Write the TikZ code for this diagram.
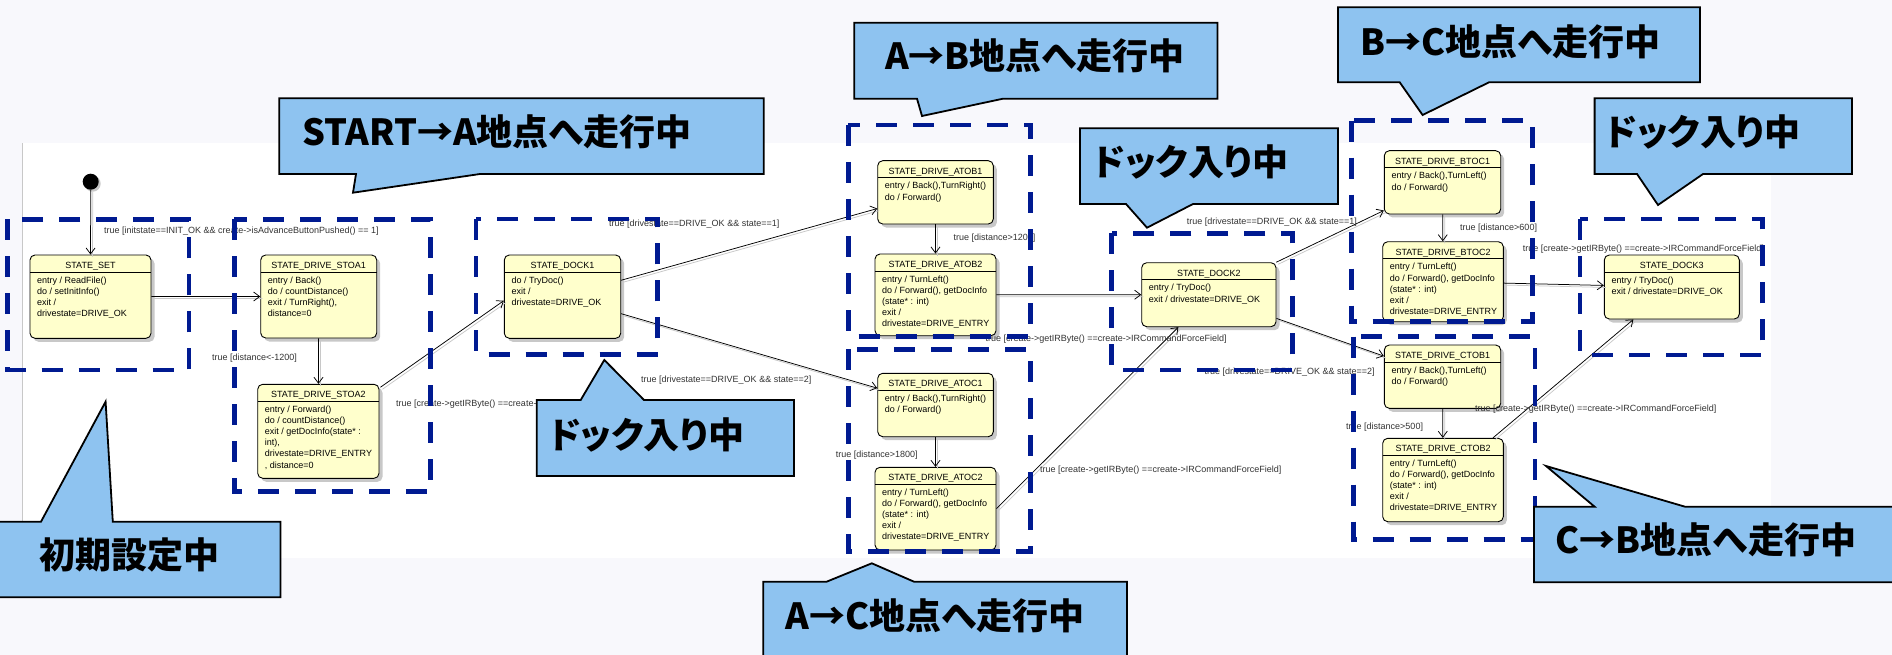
\documentclass[tikz,border=0pt]{standalone}
\usepackage{fontspec}
\setmainfont{Liberation Sans}
\newfontfamily\jpfont{Noto Sans CJK JP}[RawFeature=+palt]
\usetikzlibrary{arrows.meta,calc,fit}
\definecolor{bgout}{RGB}{248,248,252}
\definecolor{stfill}{RGB}{255,255,204}
\definecolor{navy}{RGB}{0,26,145}
\definecolor{callfill}{RGB}{142,195,240}
\definecolor{shd}{RGB}{200,200,200}
\tikzset{
  st/.style={draw=black, line width=0.9pt, fill=stfill, rounded corners=5pt, inner sep=0pt},
  sttitle/.style={font=\fontsize{9}{11}\selectfont, anchor=base, inner sep=0pt},
  stbody/.style={font=\fontsize{9}{11.1}\selectfont, anchor=north west, align=left, inner sep=0pt},
  edgeline/.style={draw=black, line width=0.75pt, -{Straight Barb[length=6pt,width=9pt]},
     preaction={draw=shd, line width=0.75pt, arrows=-, transform canvas={xshift=2pt,yshift=-2pt}}},
  lbl/.style={font=\fontsize{9}{11}\selectfont, text=black!80, anchor=west, inner sep=0pt},
  grp/.style={draw=navy, line width=4.5pt, dash pattern=on 21pt off 16pt},
  cbox/.style={draw=black, line width=1.8pt, fill=callfill, line join=miter},
  calltext/.style={font=\jpfont\bfseries\fontsize{36}{40}\selectfont, inner sep=0pt},
}
\newcommand\stbox[7]{%
  \fill[shd, rounded corners=5pt] (#2+3.5,#3+3.5) rectangle (#4+3.5,#5+3.5);
  \node[st, fit={(#2,#3) (#4,#5)}] (#1) {};
  \draw[line width=0.9pt] (#2,#3+17) -- (#4,#3+17);
  \node[sttitle] at ({(#2+#4)/2},#3+13.4) {#6};
  \node[stbody] at (#2+7,#3+21.5) {#7};
}
\begin{document}
\begin{tikzpicture}[x=1pt,y=-1pt]
\useasboundingbox (0,0) rectangle (1892,655);
\clip (0,0) rectangle (1892,655);
\fill[bgout] (0,0) rectangle (1892,655);
\fill[white] (22.3,143.3) rectangle (1771,557.7);
\draw[shd, line width=0.6pt] (22.3,143.3) -- (22.3,557.7);

% initial state
\fill[shd] (92.7,183.7) circle (8);
\node[circle, fill=black, minimum size=16pt, inner sep=0pt] (init) at (90.7,181.7) {};

% states
\stbox{set}{30}{255}{151}{338.3}{STATE\_SET}{entry / ReadFile()\\do / setInitInfo()\\exit /\\drivestate=DRIVE\_OK}
\stbox{stoa1}{260.7}{255}{376.7}{338}{STATE\_DRIVE\_STOA1}{entry / Back()\\do / countDistance()\\exit / TurnRight(),\\distance=0}
\stbox{stoa2}{257.7}{384.3}{379}{478.3}{STATE\_DRIVE\_STOA2}{entry / Forward()\\do / countDistance()\\exit / getDocInfo(state* :\\int),\\drivestate=DRIVE\_ENTRY\\, distance=0}
\stbox{dock1}{504.3}{255}{620.7}{338.3}{STATE\_DOCK1}{do / TryDoc()\\exit /\\drivestate=DRIVE\_OK}
\stbox{atob1}{877.7}{160.7}{993.3}{224}{STATE\_DRIVE\_ATOB1}{entry / Back(),TurnRight()\\do / Forward()}
\stbox{atob2}{875}{254}{996}{335.7}{STATE\_DRIVE\_ATOB2}{entry / TurnLeft()\\do / Forward(), getDocInfo\\(state* : int)\\exit /\\drivestate=DRIVE\_ENTRY}
\stbox{atoc1}{877.7}{373.3}{993.3}{436.7}{STATE\_DRIVE\_ATOC1}{entry / Back(),TurnRight()\\do / Forward()}
\stbox{atoc2}{875}{467.3}{996}{550}{STATE\_DRIVE\_ATOC2}{entry / TurnLeft()\\do / Forward(), getDocInfo\\(state* : int)\\exit /\\drivestate=DRIVE\_ENTRY}
\stbox{dock2}{1141.7}{262.7}{1276}{326.7}{STATE\_DOCK2}{entry / TryDoc()\\exit / drivestate=DRIVE\_OK}
\stbox{btoc1}{1384.3}{150.7}{1500.7}{214}{STATE\_DRIVE\_BTOC1}{entry / Back(),TurnLeft()\\do / Forward()}
\stbox{btoc2}{1382.7}{241.7}{1503.3}{321.7}{STATE\_DRIVE\_BTOC2}{entry / TurnLeft()\\do / Forward(), getDocInfo\\(state* : int)\\exit /\\drivestate=DRIVE\_ENTRY}
\stbox{dock3}{1604.3}{255}{1739.3}{319}{STATE\_DOCK3}{entry / TryDoc()\\exit / drivestate=DRIVE\_OK}
\stbox{ctob1}{1384.3}{345}{1500.7}{408.3}{STATE\_DRIVE\_CTOB1}{entry / Back(),TurnLeft()\\do / Forward()}
\stbox{ctob2}{1382.7}{438.3}{1503.3}{521.7}{STATE\_DRIVE\_CTOB2}{entry / TurnLeft()\\do / Forward(), getDocInfo\\(state* : int)\\exit /\\drivestate=DRIVE\_ENTRY}

% transitions
\draw[edgeline] (init) -- (set);
\draw[edgeline] (set) -- (stoa1);
\draw[edgeline] (stoa1) -- (stoa2);
\draw[edgeline] ($(stoa2.north east)+(1,3.4)$) -- ($(dock1.west)+(0,4)$);
\draw[edgeline] (dock1) -- (atob1);
\draw[edgeline] (dock1) -- (atoc1);
\draw[edgeline] (atob1) -- (atob2);
\draw[edgeline] (atob2) -- (dock2);
\draw[edgeline] (atoc1) -- (atoc2);
\draw[edgeline] (atoc2.east) -- ($(dock2.south)+(-30.5,0)$);
\draw[edgeline] (dock2) -- (btoc1);
\draw[edgeline] (dock2) -- (ctob1);
\draw[edgeline] (btoc1) -- (btoc2);
\draw[edgeline] (btoc2) -- (dock3);
\draw[edgeline] (ctob1) -- (ctob2);
\draw[edgeline] (ctob2) -- (dock3);

% labels
\node[lbl] (l1) at (104,231) {true [initstate==INIT\_OK \&\& create->isAdvanceButtonPushed() == 1]};
\node[lbl] (l2) at (212,358) {true [distance<-1200]};
\node[lbl] (l3) at (396,404.3) {true [create->getIRByte() ==create->IRCommandForceField]};
\node[lbl] (l4) at (609,224.3) {true [drivestate==DRIVE\_OK \&\& state==1]};
\node[lbl] (l5) at (641,380) {true [drivestate==DRIVE\_OK \&\& state==2]};
\node[lbl] (l6) at (953.3,238.3) {true [distance>1200]};
\node[lbl] (l7) at (985.4,339) {true [create->getIRByte() ==create->IRCommandForceField]};
\node[lbl] (l8) at (835.7,455) {true [distance>1800]};
\node[lbl] (l9) at (1040,470) {true [create->getIRByte() ==create->IRCommandForceField]};
\node[lbl] (l10) at (1186.7,222.3) {true [drivestate==DRIVE\_OK \&\& state==1]};
\node[lbl] (l11) at (1204.3,372.3) {true [drivestate==DRIVE\_OK \&\& state==2]};
\node[lbl] (l12) at (1460,227.7) {true [distance>600]};
\node[lbl] (l13) at (1522.7,249.3) {true [create->getIRByte() ==create->IRCommandForceField]};
\node[lbl] (l14) at (1346,427.3) {true [distance>500]};
\node[lbl] (l15) at (1475,409.3) {true [create->getIRByte() ==create->IRCommandForceField]};

% group frames
\draw[grp] (7.3,219.3) rectangle (189,370);
\draw[grp] (234.3,219.3) rectangle (430.7,491.7);
\draw[grp] (476,219) rectangle (657.7,354.3);
\draw[grp] (848.3,125) rectangle (1030.7,336.7);
\draw[grp] (848.3,349.3) rectangle (1030.7,551.7);
\draw[grp] (1111.7,233.3) rectangle (1292.3,370);
\draw[grp] (1351.7,120.7) rectangle (1532.3,321.7);
\draw[grp] (1353.3,336.7) rectangle (1535,539.3);
\draw[grp] (1580,219) rectangle (1762.3,355);

% callouts
\filldraw[cbox] (-3,521.7) -- (41,521.7) -- (105.6,401.7) -- (112.8,521.7) -- (280.5,521.7) -- (280.5,597.3) -- (-3,597.3) -- cycle;
\node[calltext] (c1) at (129.5,555) {初期設定中};
\filldraw[cbox] (279.3,98.3) -- (763.8,98.3) -- (763.8,174) -- (480,174) -- (353,192.7) -- (356,174) -- (279.3,174) -- cycle;
\node[calltext] (c2) at (497,131.7) {START→A地点へ走行中};
\filldraw[cbox] (854.3,22.7) -- (1217.5,22.7) -- (1217.5,98.7) -- (1003,98.7) -- (922,116) -- (917,98.7) -- (854.3,98.7) -- cycle;
\node[calltext] (c3) at (1035,56) {A→B地点へ走行中};
\filldraw[cbox] (536.7,400) -- (580.7,400) -- (604.3,360) -- (644,400) -- (794,400) -- (794,476) -- (536.7,476) -- cycle;
\node[calltext] (c4) at (646.7,435) {ドック入り中};
\filldraw[cbox] (763.2,581.7) -- (826.6,581.7) -- (871.8,563.3) -- (914,581.7) -- (1127,581.7) -- (1127,660) -- (763.2,660) -- cycle;
\node[calltext] (c5) at (935,616) {A→C地点へ走行中};
\filldraw[cbox] (1080,128.3) -- (1338,128.3) -- (1338,204) -- (1193,204) -- (1147,227.7) -- (1126,204) -- (1080,204) -- cycle;
\node[calltext] (c6) at (1191,161.7) {ドック入り中};
\filldraw[cbox] (1338,7.3) -- (1700,7.3) -- (1700,82.3) -- (1489,82.3) -- (1422.6,115) -- (1399.7,82.3) -- (1338,82.3) -- cycle;
\node[calltext] (c7) at (1510.5,41.7) {B→C地点へ走行中};
\filldraw[cbox] (1594.6,98.3) -- (1852,98.3) -- (1852,174) -- (1703,174) -- (1658,205) -- (1637,174) -- (1594.6,174) -- cycle;
\node[calltext] (c8) at (1703,131.7) {ドック入り中};
\filldraw[cbox] (1534,506.7) -- (1594.6,506.7) -- (1546,466) -- (1685,506.7) -- (1900,506.7) -- (1900,582.3) -- (1534,582.3) -- cycle;
\node[calltext] (c9) at (1706,540) {C→B地点へ走行中};
\end{tikzpicture}
\end{document}
